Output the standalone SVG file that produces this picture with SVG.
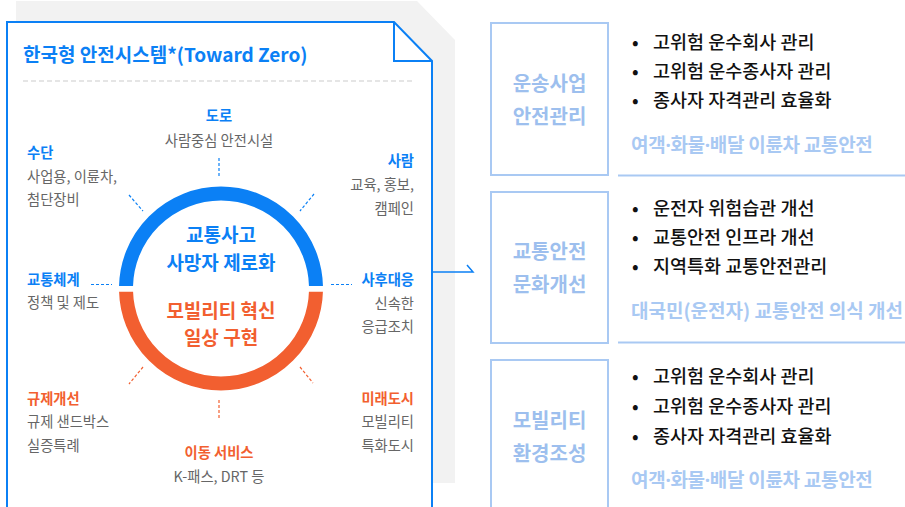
<svg xmlns="http://www.w3.org/2000/svg" width="905" height="507" viewBox="0 0 905 507">
<defs>
<style>
text{font-family:"Noto Sans CJK KR","Noto Sans",sans-serif;}
.ttl{font-size:19px;font-weight:700;fill:#0b80f5;}
.hb{font-size:14.3px;font-weight:700;fill:#0b80f5;}
.ho{font-size:14.3px;font-weight:700;fill:#f25f30;}
.body{font-size:14.3px;fill:#666;}
.cb{font-size:19px;font-weight:700;fill:#0b80f5;text-anchor:middle;}
.co{font-size:19px;font-weight:700;fill:#f25f30;text-anchor:middle;}
.r{text-anchor:end;}
.m{text-anchor:middle;}
.box{fill:#fff;stroke:#a9c9f3;stroke-width:2;}
.bl{font-size:20px;font-weight:700;fill:#9dbfee;text-anchor:middle;}
.bt{font-size:18.5px;font-weight:500;fill:#111;}
.sub{font-size:19px;font-weight:700;fill:#a9c9f3;}
.s1{letter-spacing:-0.3px;}
.dot{font-family:"Noto Sans",sans-serif;}
.sep{stroke:#a9c9f3;stroke-width:2;}
.db{stroke:#0b80f5;stroke-width:1.2;stroke-dasharray:3 2;fill:none;}
.do{stroke:#f25f30;stroke-width:1.2;stroke-dasharray:3 2;fill:none;}
</style>
<clipPath id="ctop"><rect x="0" y="0" width="460" height="286"/></clipPath>
<clipPath id="cbot"><rect x="0" y="291.7" width="460" height="220"/></clipPath>
</defs>
<rect width="905" height="507" fill="#fff"/>

<g id="frame">
<path d="M16,1 H417 L455,40 V483 H16 Z" fill="#f2f2f2"/>
<path d="M7,22 H394 L432,61 V520 H7 Z" fill="#fff" stroke="#0b80f5" stroke-width="2"/>
<path d="M394,22 V61 H432" fill="none" stroke="#0b80f5" stroke-width="2"/>
<text class="ttl" x="23" y="62">한국형 안전시스템*(Toward Zero)</text>
<line x1="23" y1="81" x2="415" y2="81" stroke="#ddd" stroke-width="1.5" stroke-dasharray="5 3"/>
</g>

<g id="core">
<circle cx="221" cy="288.5" r="95" fill="none" stroke="#0b80f5" stroke-width="14" clip-path="url(#ctop)"/>
<circle cx="221" cy="288.5" r="95" fill="none" stroke="#f25f30" stroke-width="14" clip-path="url(#cbot)"/>
<text class="cb" x="221" y="242">교통사고</text>
<text class="cb" x="221" y="270">사망자 제로화</text>
<text class="co" x="221" y="318">모빌리티 혁신</text>
<text class="co" x="221" y="345">일상 구현</text>
</g>

<g id="connectors">
<line class="db" x1="219" y1="158" x2="219" y2="178"/>
<line class="db" x1="129" y1="195" x2="143" y2="211"/>
<line class="db" x1="314" y1="194" x2="300" y2="211"/>
<line class="db" x1="91" y1="284.5" x2="112" y2="284.5"/>
<line class="db" x1="331" y1="284.5" x2="352" y2="284.5"/>
<line class="do" x1="143" y1="367" x2="129" y2="384"/>
<line class="do" x1="300" y1="367" x2="313" y2="383"/>
<line class="do" x1="219" y1="400" x2="219" y2="420"/>
<path d="M432,272 H473 L467,265" fill="none" stroke="#0b80f5" stroke-width="1.5"/>
</g>

<g id="node-road">
<text class="hb m" x="219" y="121">도로</text>
<text class="body m" x="219" y="146">사람중심 안전시설</text>
</g>
<g id="node-means">
<text class="hb" x="27" y="158">수단</text>
<text class="body" x="27" y="182">사업용, 이륜차,</text>
<text class="body" x="27" y="205">첨단장비</text>
</g>
<g id="node-people">
<text class="hb r" x="414" y="166">사람</text>
<text class="body r" x="414" y="190">교육, 홍보,</text>
<text class="body r" x="414" y="214">캠페인</text>
</g>
<g id="node-system">
<text class="hb" x="27" y="285">교통체계</text>
<text class="body" x="27" y="308">정책 및 제도</text>
</g>
<g id="node-response">
<text class="hb r" x="414" y="285">사후대응</text>
<text class="body r" x="414" y="309">신속한</text>
<text class="body r" x="414" y="332">응급조치</text>
</g>
<g id="node-regulation">
<text class="ho" x="27" y="404">규제개선</text>
<text class="body" x="27" y="427">규제 샌드박스</text>
<text class="body" x="27" y="451">실증특례</text>
</g>
<g id="node-city">
<text class="ho r" x="414" y="404">미래도시</text>
<text class="body r" x="414" y="427">모빌리티</text>
<text class="body r" x="414" y="451">특화도시</text>
</g>
<g id="node-mobility-service">
<text class="ho m" x="219" y="458">이동 서비스</text>
<text class="body m" x="219" y="482">K-패스, DRT 등</text>
</g>

<g id="panel-1">
<rect class="box" x="491" y="23" width="117" height="152"/>
<text class="bl" x="549.5" y="91">운송사업</text>
<text class="bl" x="549.5" y="124">안전관리</text>
<text class="bt" x="632" y="49">•</text>
<text class="bt" x="653" y="49">고위험 운수회사 관리</text>
<text class="bt" x="632" y="78">•</text>
<text class="bt" x="653" y="78">고위험 운수종사자 관리</text>
<text class="bt" x="632" y="107">•</text>
<text class="bt" x="653" y="107">종사자 자격관리 효율화</text>
<text class="sub s1" x="631" y="152">여객<tspan class="dot">·</tspan>화물<tspan class="dot">·</tspan>배달 이륜차 교통안전</text>
<line class="sep" x1="618" y1="175.5" x2="905" y2="175.5"/>
</g>

<g id="panel-2">
<rect class="box" x="491" y="192" width="117" height="151"/>
<text class="bl" x="549.5" y="259">교통안전</text>
<text class="bl" x="549.5" y="292">문화개선</text>
<text class="bt" x="632" y="215">•</text>
<text class="bt" x="653" y="215">운전자 위험습관 개선</text>
<text class="bt" x="632" y="244">•</text>
<text class="bt" x="653" y="244">교통안전 인프라 개선</text>
<text class="bt" x="632" y="273">•</text>
<text class="bt" x="653" y="273">지역특화 교통안전관리</text>
<text class="sub" x="631" y="318">대국민(운전자) 교통안전 의식 개선</text>
<line class="sep" x1="618" y1="342.5" x2="905" y2="342.5"/>
</g>

<g id="panel-3">
<rect class="box" x="491" y="360" width="117" height="160"/>
<text class="bl" x="549.5" y="428">모빌리티</text>
<text class="bl" x="549.5" y="461">환경조성</text>
<text class="bt" x="632" y="383">•</text>
<text class="bt" x="653" y="383">고위험 운수회사 관리</text>
<text class="bt" x="632" y="413">•</text>
<text class="bt" x="653" y="413">고위험 운수종사자 관리</text>
<text class="bt" x="632" y="443">•</text>
<text class="bt" x="653" y="443">종사자 자격관리 효율화</text>
<text class="sub s1" x="631" y="487">여객<tspan class="dot">·</tspan>화물<tspan class="dot">·</tspan>배달 이륜차 교통안전</text>
</g>
</svg>
